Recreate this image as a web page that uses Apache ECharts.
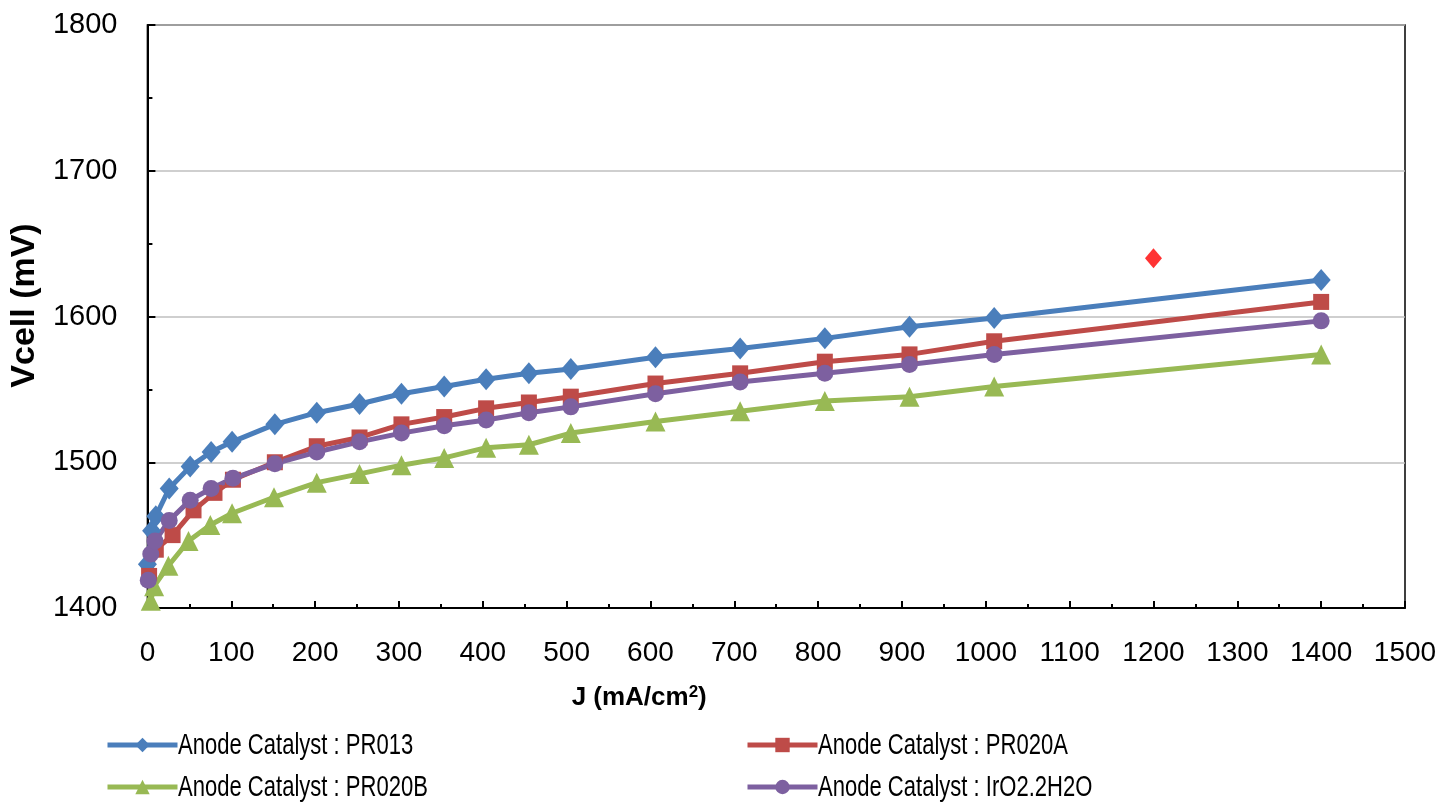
<!DOCTYPE html>
<html>
<head>
<meta charset="utf-8">
<script src="https://cdn.jsdelivr.net/npm/echarts@6/dist/echarts.min.js"></script>
<style>html,body{margin:0;padding:0;background:#fff;}#c{width:1443px;height:805px;}</style>
</head>
<body>
<div id="c"></div>
<script>
// Data
const jBlue   = [0, 5, 10, 26, 51, 76, 101, 152, 202, 253, 303, 354, 404, 455, 505, 606, 707, 808, 909, 1010, 1400];
const vBlue   = [1430, 1453, 1463, 1482, 1497, 1507, 1514, 1526, 1534, 1540, 1547, 1552, 1557, 1561, 1564, 1572, 1578, 1585, 1593, 1599, 1625];
const jRed    = [2, 10, 30, 55, 80, 102, 152, 202, 253, 303, 354, 404, 455, 505, 606, 707, 808, 909, 1010, 1400];
const vRed    = [1422, 1440, 1450, 1467, 1479, 1488, 1500, 1511, 1517, 1526, 1531, 1537, 1541, 1545, 1554, 1561, 1569, 1574, 1583, 1610];
const jGreen  = [4, 8, 25, 49, 75, 101, 151, 202, 253, 303, 354, 404, 455, 505, 606, 707, 808, 909, 1010, 1400];
const vGreen  = [1405, 1415, 1429, 1446, 1457, 1465, 1476, 1486, 1492, 1498, 1503, 1510, 1512, 1520, 1528, 1535, 1542, 1545, 1552, 1574];
const jPurple = [1, 4, 9, 26, 51, 76, 102, 152, 202, 253, 303, 354, 404, 455, 505, 606, 707, 808, 909, 1010, 1400];
const vPurple = [1419, 1437, 1446, 1460, 1474, 1482, 1489, 1499, 1507, 1514, 1520, 1525, 1529, 1534, 1538, 1547, 1555, 1561, 1567, 1574, 1597];
const jExtra  = [1200];
const vExtra  = [1640];
const seriesNames = ['Anode Catalyst : PR013', 'Anode Catalyst : PR020A', 'Anode Catalyst : PR020B', 'Anode Catalyst : IrO2.2H2O'];

const zip = (a, b) => a.map((x, i) => [x, b[i]]);
const FONT = '"Liberation Sans", Arial, sans-serif';

function lineSeries(name, data, color, symbol, size) {
  return {
    name, type: 'line', data, symbol, symbolSize: size,
    lineStyle: { color, width: 5 },
    itemStyle: { color },
    emphasis: { disabled: true },
    animation: false
  };
}

// legend: icon from ECharts legend, label as (horizontally condensed) text
const legendPos = [[105, 736], [745, 736], [105, 778], [745, 778]];
function legendAt(i) {
  return {
    data: [seriesNames[i]], left: legendPos[i][0], top: legendPos[i][1],
    padding: 0, itemWidth: 70, itemHeight: 18, itemGap: 0,
    lineStyle: { width: 5 },
    formatter: () => '',
    textStyle: { fontSize: 1 },
    selectedMode: false
  };
}
function legendText(i) {
  return {
    type: 'text', x: legendPos[i][0] + 73, y: legendPos[i][1] + 10, scaleX: 0.76,
    style: { text: seriesNames[i], fontFamily: FONT, fontSize: 29, fill: '#000', verticalAlign: 'middle', align: 'left' },
    silent: true
  };
}

const chart = echarts.init(document.getElementById('c'), null, { renderer: 'canvas' });
chart.setOption({
  backgroundColor: '#fff',
  animation: false,
  grid: { left: 140, right: 38, top: 25, bottom: 197, show: true, borderColor: '#000', borderWidth: 1.5, backgroundColor: 'transparent' },
  legend: [legendAt(0), legendAt(1), legendAt(2), legendAt(3)],
  graphic: [legendText(0), legendText(1), legendText(2), legendText(3)],
  xAxis: {
    type: 'value', min: 0, max: 1500, interval: 100,
    name: 'J (mA/cm{sup|2})', nameLocation: 'middle', nameGap: 76,
    nameTextStyle: { fontFamily: FONT, fontSize: 26, fontWeight: 'bold', color: '#000', padding: [0, 274, 0, 0],
      rich: { sup: { fontFamily: FONT, fontSize: 17, fontWeight: 'bold', color: '#000', verticalAlign: 'top', padding: [0, 0, 10, 0] } } },
    axisLine: { lineStyle: { color: '#000', width: 2 } },
    axisTick: { inside: true, length: 7, lineStyle: { color: '#000', width: 2 } },
    minorTick: { show: true, splitNumber: 2, length: 4, lineStyle: { color: '#000', width: 2 } },
    splitLine: { show: false },
    axisLabel: { fontFamily: FONT, fontSize: 28, color: '#000', margin: 31, formatter: v => String(v) }
  },
  yAxis: {
    type: 'value', min: 1400, max: 1800, interval: 100,
    name: 'Vcell (mV)', nameLocation: 'middle', nameGap: 74, nameRotate: 90,
    nameTextStyle: { fontFamily: FONT, fontSize: 34, fontWeight: 'bold', color: '#000', padding: [0, 0, 0, 22] },
    axisLine: { lineStyle: { color: '#000', width: 2 } },
    axisTick: { inside: true, length: 8, lineStyle: { color: '#000', width: 2 } },
    minorTick: { show: true, splitNumber: 2, length: 5, lineStyle: { color: '#000', width: 2 } },
    splitLine: { show: true, lineStyle: { color: '#BFBFBF', width: 1.5 } },
    axisLabel: { fontFamily: FONT, fontSize: 29, color: '#000', margin: 30, formatter: v => String(v) }
  },
  series: [
    lineSeries(seriesNames[0], zip(jBlue, vBlue), '#4A7EBB', 'diamond', [19, 22]),
    lineSeries(seriesNames[1], zip(jRed, vRed), '#BE4B48', 'rect', 16),
    lineSeries(seriesNames[2], zip(jGreen, vGreen), '#98B954', 'triangle', 20),
    lineSeries(seriesNames[3], zip(jPurple, vPurple), '#7D60A0', 'circle', 17),
    { name: 'extra', type: 'scatter', data: zip(jExtra, vExtra), symbol: 'diamond', symbolSize: [17, 20],
      itemStyle: { color: '#FF0000' }, emphasis: { disabled: true }, animation: false }
  ]
});
</script>
</body>
</html>
